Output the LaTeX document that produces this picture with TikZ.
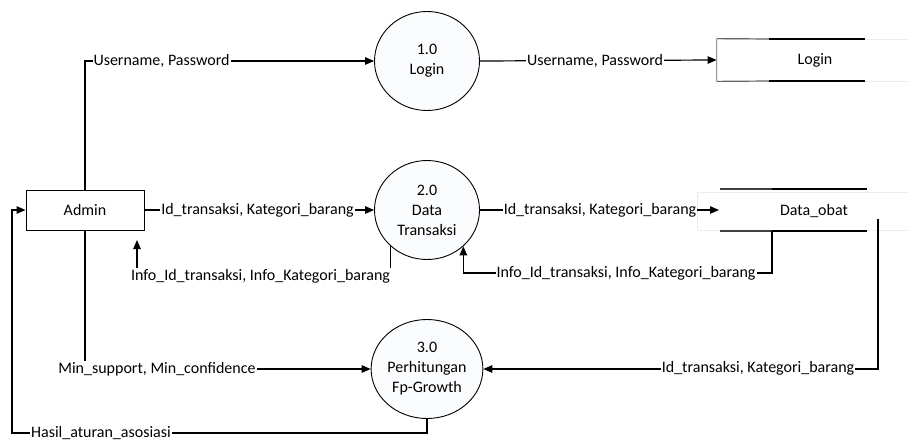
\documentclass[tikz,border=0pt]{standalone}
\usepackage{fontspec}
\setmainfont{Carlito}
\usetikzlibrary{arrows.meta,shapes.geometric}
\definecolor{procfill}{RGB}{251,252,254}
\begin{document}
\begin{tikzpicture}[x=1pt,y=-1pt,
  every node/.style={font=\fontsize{16}{20}\selectfont},
  proc/.style={ellipse,draw=black,line width=0.9pt,fill=procfill,minimum width=105pt,minimum height=99pt,inner sep=0pt,align=center},
  ent/.style={draw=black,line width=1pt,minimum width=118pt,minimum height=40pt,inner sep=0pt},
  storebox/.style={draw=black!7,line width=0.8pt,inner sep=0pt},
  storeline/.style={line width=1.2pt},
  flow/.style={line width=1.2pt,-{Triangle[length=9pt,width=7.5pt]}},
  lbl/.style={fill=white,inner sep=1pt}
]
\fill[white] (0,0) rectangle (909,441);
\useasboundingbox (0,0) rectangle (909,441);

% entities and processes
\node[ent] (admin) at (85,210) {Admin};
\node[proc] (c1) at (427,61) {1.0\\Login};
\node[proc] (c2) at (427,210) {2.0\\Data\\Transaksi};
\node[proc] (c3) at (427,369) {3.0\\Perhitungan\\Fp-Growth};

% data stores
\node[storebox,minimum width=196pt,minimum height=42pt] (lg) at (815,60) {Login};
\draw[black!40,line width=0.8pt] (lg.north west) -- (lg.south west);
\draw[storeline,black!60] (lg.north west) -- (769,39);
\draw[storeline] (769,39) -- (865,39);
\draw[storeline,black!60] (lg.south west) -- (769,81);
\draw[storeline] (769,81) -- (865,81);

\node[storebox,minimum width=234pt,minimum height=38pt] (ds) at (814,211) {Data\_obat};
\draw[storeline,black!75] (720,189) -- (772,189);
\draw[storeline] (772,189) -- (867,189);
\draw[storeline,black!75] (720,231) -- (772,231);
\draw[storeline] (772,231) -- (867,231);

% connector end points
\coordinate (dsin) at (719,210);
\coordinate (dsb) at (772,231);
\coordinate (dsr) at (878,219);
\coordinate (admin_in) at (137,240);
\coordinate (hk) at (12,433);

% connectors
\draw[flow] (admin.north) |- (c1.west);
\draw[flow] (c1.east) -- (lg.west);
\draw[flow] (admin.east) -- (c2.west);
\draw[flow] (c2.east) -- (dsin);
\draw[flow] (c2.-135) -- ++(0,30) -| (admin_in);
\draw[flow] (dsb) -- ++(0,42) -| (c2.-45);
\draw[flow] (admin.south) |- (c3.west);
\draw[flow] (dsr) |- (c3.east);
\draw[flow] (c3.south) |- (hk) |- (admin.west);

% labels
\node[lbl] (l1) at (161.5,61) {Username, Password};
\node[lbl] (l2) at (595,61) {Username, Password};
\node[lbl] (l3) at (257.5,210) {Id\_transaksi, Kategori\_barang};
\node[lbl] (l4) at (600,210) {Id\_transaksi, Kategori\_barang};
\node[lbl] (l5) at (260.5,276) {Info\_Id\_transaksi, Info\_Kategori\_barang};
\node[lbl] (l6) at (626,273) {Info\_Id\_transaksi, Info\_Kategori\_barang};
\node[lbl] (l7) at (157,369) {Min\_support, Min\_confidence};
\node[lbl] (l8) at (758,368) {Id\_transaksi, Kategori\_barang};
\node[lbl] (l9) at (101,433.5) {Hasil\_aturan\_asosiasi};
\end{tikzpicture}
\end{document}
